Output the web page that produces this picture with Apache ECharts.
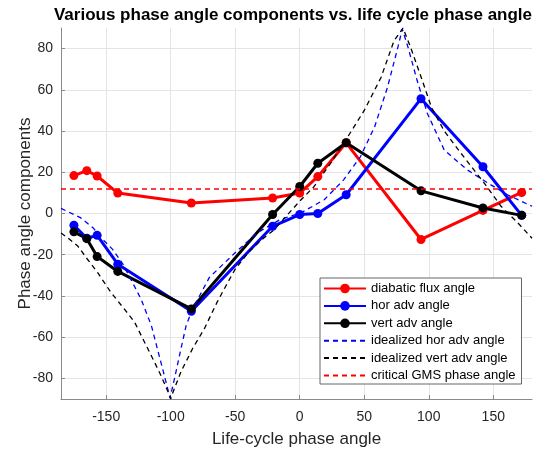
<!DOCTYPE html>
<html>
<head>
<meta charset="utf-8">
<script src="https://cdn.jsdelivr.net/npm/echarts@6/dist/echarts.min.js"></script>
<style>
html,body{margin:0;padding:0;background:#fff;}
#chart{width:537px;height:449px;}
</style>
</head>
<body>
<div id="chart"></div>
<script>
// ---- data ----
const phaseX = [-175, -165, -157, -141, -84, -21, 0, 14, 36, 94, 142, 172];
const diabaticFlux = [18.4, 20.8, 18.2, 9.9, 5.1, 7.5, 9.9, 17.9, 34.3, -12.6, 1.5, 10.2];
const horAdv = [-5.7, -12, -10.6, -24.6, -47.4, -6.2, -0.5, 0, 9.1, 55.7, 22.7, -0.9];
const vertAdv = [-8.9, -12.2, -20.9, -28.1, -46.3, -0.5, 13.1, 24.4, 34.3, 11.0, 2.7, -0.9];

const idealHorX = [-185, -180, -170, -160, -154, -145, -137, -131, -123, -119, -115, -111, -105, -100.5, -97, -92, -88, -83, -70, -50, -33, -15, 1, 19, 34, 47, 58, 68, 76, 79.5, 84, 91, 99, 112, 130, 146, 161, 180];
const idealHorY = [2.5, 1, -2, -7, -11.7, -17.4, -24.6, -31.8, -41.5, -47.9, -54.3, -64, -78.4, -89.5, -80, -65.5, -54.3, -46.3, -31, -19, -9.4, -2.9, 0.3, 6.7, 16.3, 27.5, 42, 61.2, 80.5, 89.5, 80.5, 64.5, 48.4, 30.8, 21.1, 14.7, 9.1, 3.5];

const idealVertX = [-185, -180, -172, -164.5, -156.7, -146.4, -136, -128, -123, -115, -108, -101, -100, -99, -92, -83, -74, -64, -58, -50, -40, -30, -20, -10, 0, 11, 24, 37, 50, 63, 73, 80, 86, 95, 102, 112, 125, 143, 156, 169, 180];
const idealVertY = [-9.5, -11.7, -15.8, -22.2, -28.6, -38.2, -46.3, -52.7, -59, -69, -78, -88, -90, -88, -76.7, -65.5, -56, -43, -36, -27, -19, -13, -8, -1, 6, 13, 24.4, 37, 50, 66, 83.7, 90, 80.5, 64.5, 51.6, 40, 29.2, 14.7, 3.5, -4.5, -12];

const criticalGMS = 11.8;

const xTicks = [-150, -100, -50, 0, 50, 100, 150];
const yTicks = [-80, -60, -40, -20, 0, 20, 40, 60, 80];
const xRange = [-185, 180];
const yRange = [-90, 90];

// ---- chart ----
const zip = (xs, ys) => xs.map((x, i) => [x, ys[i]]);
const FONT = '"Liberation Sans", Arial, Helvetica, sans-serif';
const AXIS_COLOR = '#8a8a8a';
const TEXT_COLOR = '#262626';
const GRID_COLOR = '#e4e4e4';
const DASH = [5, 4];

const chart = echarts.init(document.getElementById('chart'), null, {renderer: 'canvas'});

function solid(name, ys, color) {
  return {
    type: 'line', name: name, data: zip(phaseX, ys),
    symbol: 'circle', symbolSize: 9, showSymbol: true,
    lineStyle: {color: color, width: 3},
    itemStyle: {color: color, borderWidth: 0},
    emphasis: {disabled: true}, silent: true
  };
}
function dashed(name, xs, ys, color) {
  return {
    type: 'line', name: name, data: zip(xs, ys),
    symbol: 'none', showSymbol: false,
    lineStyle: {color: color, width: 1.3, type: DASH},
    itemStyle: {color: color},
    emphasis: {disabled: true}, silent: true
  };
}
const hiddenSymbol = {opacity: 0, borderWidth: 0};

const option = {
  animation: false,
  backgroundColor: '#fff',
  textStyle: {fontFamily: FONT},
  title: {
    text: 'Various phase angle components vs. life cycle phase angle',
    left: 288, top: 2, textAlign: 'center',
    textStyle: {fontSize: 17, fontWeight: 'bold', color: '#000', fontFamily: FONT}
  },
  grid: {left: 61, top: 28, right: 5, bottom: 50, containLabel: false, outerBoundsMode: 'none'},
  legend: {
    orient: 'vertical', left: 320, top: 278,
    padding: [4, 6, 2, 3],
    itemWidth: 42, itemHeight: 12, itemGap: 4.4,
    backgroundColor: '#fff', borderColor: '#666', borderWidth: 1, borderRadius: 0,
    textStyle: {fontSize: 13, color: '#000', fontFamily: FONT, padding: [0, 0, 0, 0]},
    data: [
      {name: 'diabatic flux angle'},
      {name: 'hor adv angle'},
      {name: 'vert adv angle'},
      {name: 'idealized hor adv angle', itemStyle: hiddenSymbol},
      {name: 'idealized vert adv angle', itemStyle: hiddenSymbol},
      {name: 'critical GMS phase angle', itemStyle: hiddenSymbol}
    ]
  },
  xAxis: {
    type: 'value', min: xRange[0], max: xRange[1],
    name: 'Life-cycle phase angle', nameLocation: 'middle', nameGap: 32,
    nameTextStyle: {fontSize: 17, color: TEXT_COLOR, fontFamily: FONT},
    axisLine: {show: true, onZero: false, lineStyle: {color: AXIS_COLOR, width: 1}},
    axisTick: {show: true, inside: true, length: 4, customValues: xTicks, lineStyle: {color: AXIS_COLOR}},
    axisLabel: {customValues: xTicks, fontSize: 14, color: TEXT_COLOR, margin: 11, fontFamily: FONT},
    splitLine: {show: true, lineStyle: {color: GRID_COLOR, width: 1}}
  },
  yAxis: {
    type: 'value', min: yRange[0], max: yRange[1],
    name: 'Phase angle components', nameLocation: 'middle', nameGap: 27, nameMoveOverlap: false,
    nameTextStyle: {fontSize: 17, color: TEXT_COLOR, fontFamily: FONT},
    axisLine: {show: true, onZero: false, lineStyle: {color: AXIS_COLOR, width: 1}},
    axisTick: {show: true, inside: true, length: 4, customValues: yTicks, lineStyle: {color: AXIS_COLOR}},
    axisLabel: {customValues: yTicks, fontSize: 14, color: TEXT_COLOR, margin: 8, fontFamily: FONT},
    splitLine: {show: true, lineStyle: {color: GRID_COLOR, width: 1}}
  },
  series: [
    solid('diabatic flux angle', diabaticFlux, '#ff0000'),
    solid('hor adv angle', horAdv, '#0000ff'),
    solid('vert adv angle', vertAdv, '#000000'),
    dashed('idealized hor adv angle', idealHorX, idealHorY, '#0000ff'),
    dashed('idealized vert adv angle', idealVertX, idealVertY, '#000000'),
    {
      type: 'line', name: 'critical GMS phase angle', data: [],
      symbol: 'none', showSymbol: false,
      lineStyle: {color: '#ff0000', width: 1.5, type: DASH},
      itemStyle: {color: '#ff0000'},
      silent: true,
      markLine: {
        silent: true, symbol: ['none', 'none'], label: {show: false},
        lineStyle: {color: '#ff0000', width: 1.5, type: DASH},
        emphasis: {disabled: true},
        data: [{yAxis: criticalGMS}]
      }
    }
  ]
};
chart.setOption(option);
</script>
</body>
</html>
